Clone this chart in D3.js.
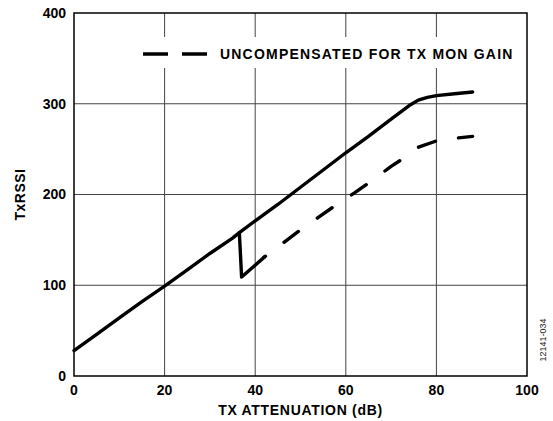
<!DOCTYPE html>
<html>
<head>
<meta charset="utf-8">
<script src="https://cdn.jsdelivr.net/npm/d3@7"></script>
<style>
  body { margin: 0; background: #fff; }
  svg { display: block; font-family: Arial, 'Liberation Sans', sans-serif; }
</style>
</head>
<body>
<div id="chart"></div>
<script>
// TxRSSI vs TX attenuation
var xTicks = [0, 20, 40, 60, 80, 100];
var yTicks = [0, 100, 200, 300, 400];

// compensated (solid)
var compAtten = [0, 5, 10, 15, 20, 25, 30, 35, 36.5, 40, 45, 50, 55, 60, 65, 70, 74, 76, 78, 80, 84, 88];
var compRssi  = [28, 46, 64, 82, 99, 117, 135, 152, 158, 171, 189, 208, 227, 246, 264, 283, 298, 304, 307, 309, 311, 313];

// uncompensated for TX MON gain (dashed after the drop)
var uncAtten = [36.5, 37, 42, 46, 50, 54, 58, 62, 66, 70, 74, 76, 80, 84, 88];
var uncRssi  = [158, 109, 131, 146, 161, 175, 189, 202, 216, 231, 244, 252, 259, 262, 264];
var uncSolidCount = 3;

var legendLabel = 'UNCOMPENSATED FOR TX MON GAIN';

var W = 553, H = 421;
var margin = { left: 74, right: 26, top: 13, bottom: 45 };

var svg = d3.select('#chart').append('svg')
  .attr('width', W).attr('height', H);

var x = d3.scaleLinear().domain([0, 100]).range([margin.left, W - margin.right]);
var y = d3.scaleLinear().domain([0, 400]).range([H - margin.bottom, margin.top]);

// Grid
svg.append('g').selectAll('line.vx')
  .data(xTicks.slice(1, -1))
  .enter().append('line')
  .attr('x1', function(d) { return x(d); }).attr('x2', function(d) { return x(d); })
  .attr('y1', y(0)).attr('y2', y(400))
  .attr('stroke', '#444').attr('stroke-width', 1);

svg.append('g').selectAll('line.hy')
  .data(yTicks.slice(1, -1))
  .enter().append('line')
  .attr('x1', x(0)).attr('x2', x(100))
  .attr('y1', function(d) { return y(d); }).attr('y2', function(d) { return y(d); })
  .attr('stroke', '#444').attr('stroke-width', 1);

// Legend background knocks out the grid
svg.append('rect')
  .attr('x', 134).attr('y', 37).attr('width', 390).attr('height', 31)
  .attr('fill', '#fff');

// Frame
svg.append('rect')
  .attr('x', x(0)).attr('y', y(400))
  .attr('width', x(100) - x(0)).attr('height', y(0) - y(400))
  .attr('fill', 'none').attr('stroke', '#000').attr('stroke-width', 1.5);

// Tick labels
svg.append('g').selectAll('text')
  .data(xTicks).enter().append('text')
  .attr('x', function(d) { return x(d); })
  .attr('y', y(0) + 19)
  .attr('text-anchor', 'middle')
  .attr('font-size', '14px').attr('font-weight', 'bold')
  .text(function(d) { return d; });

svg.append('g').selectAll('text')
  .data(yTicks).enter().append('text')
  .attr('x', x(0) - 8)
  .attr('y', function(d) { return y(d); })
  .attr('dy', '0.35em')
  .attr('text-anchor', 'end')
  .attr('font-size', '14px').attr('font-weight', 'bold')
  .text(function(d) { return d; });

// Axis titles
svg.append('text')
  .attr('x', (x(0) + x(100)) / 2).attr('y', 415)
  .attr('text-anchor', 'middle')
  .attr('font-size', '14px').attr('font-weight', 'bold')
  .attr('letter-spacing', '0.7px')
  .text('TX ATTENUATION (dB)');

svg.append('text')
  .attr('transform', 'translate(25,' + ((y(0) + y(400)) / 2) + ') rotate(-90)')
  .attr('text-anchor', 'middle')
  .attr('font-size', '14px').attr('font-weight', 'bold')
  .attr('letter-spacing', '0.5px')
  .text('TxRSSI');

svg.append('text')
  .attr('transform', 'translate(546,340) rotate(-90)')
  .attr('text-anchor', 'middle')
  .attr('font-size', '9px').attr('fill', '#222')
  .text('12141-034');

// Lines
var line = d3.line()
  .x(function(d) { return x(d[0]); })
  .y(function(d) { return y(d[1]); });

var comp = d3.zip(compAtten, compRssi);
var unc = d3.zip(uncAtten, uncRssi);

svg.append('path')
  .attr('d', line(comp))
  .attr('fill', 'none').attr('stroke', '#000')
  .attr('stroke-width', 3.4).attr('stroke-linecap', 'round').attr('stroke-linejoin', 'round');

svg.append('path')
  .attr('d', line(unc.slice(0, uncSolidCount)))
  .attr('fill', 'none').attr('stroke', '#000')
  .attr('stroke-width', 3.4).attr('stroke-linecap', 'round').attr('stroke-linejoin', 'round');

svg.append('path')
  .attr('d', line(unc.slice(uncSolidCount - 1)))
  .attr('fill', 'none').attr('stroke', '#000')
  .attr('stroke-width', 3.4).attr('stroke-linecap', 'round').attr('stroke-linejoin', 'round')
  .attr('stroke-dasharray', '18,23.2')
  .attr('stroke-dashoffset', 16.5);

// Legend
var lg = svg.append('g');
lg.append('line')
  .attr('x1', 143).attr('x2', 210).attr('y1', 54).attr('y2', 54)
  .attr('stroke', '#000').attr('stroke-width', 3.4)
  .attr('stroke-dasharray', '25,14');
lg.append('text')
  .attr('x', 220).attr('y', 54).attr('dy', '0.35em')
  .attr('font-size', '14px').attr('font-weight', 'bold')
  .attr('letter-spacing', '1.2px')
  .text(legendLabel);
</script>
</body>
</html>
